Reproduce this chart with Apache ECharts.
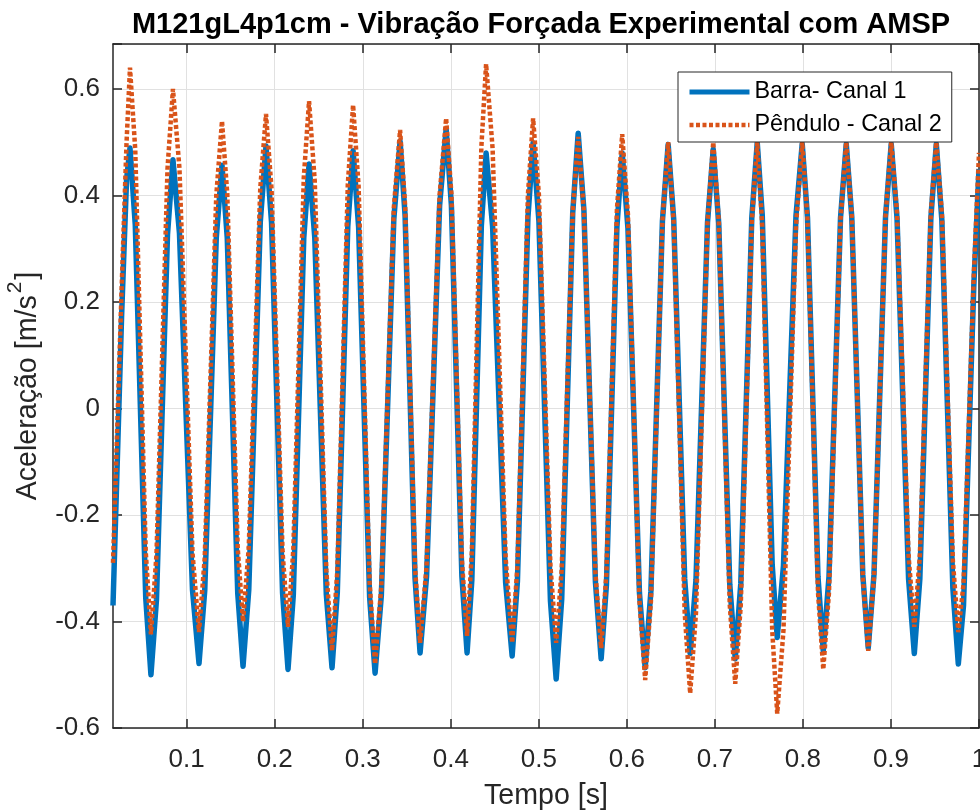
<!DOCTYPE html>
<html><head><meta charset="utf-8">
<script src="https://cdn.jsdelivr.net/npm/echarts@6/dist/echarts.min.js"></script>
<style>html,body{margin:0;padding:0;background:#fff}#c{width:980px;height:812px}</style>
</head><body><div id="c"></div>
<script>
const tempo = [
0.0163, 0.0260, 0.0317, 0.0356,
0.0416, 0.0535, 0.0594,
0.0657, 0.0782, 0.0844,
0.0918, 0.1066, 0.1140,
0.1205, 0.1336, 0.1401,
0.1461, 0.1580, 0.1640,
0.1705, 0.1836, 0.1901,
0.1964, 0.2089, 0.2151,
0.2211, 0.2330, 0.2390,
0.2455, 0.2586, 0.2651,
0.2711, 0.2830, 0.2890,
0.2953, 0.3078, 0.3140,
0.3211, 0.3353, 0.3424,
0.3481, 0.3594, 0.3651,
0.3725, 0.3873, 0.3947,
0.4007, 0.4126, 0.4185,
0.4239, 0.4347, 0.4401,
0.4475, 0.4623, 0.4697,
0.4757, 0.4876, 0.4935,
0.5001, 0.5132, 0.5197,
0.5260, 0.5385, 0.5447,
0.5512, 0.5643, 0.5708,
0.5768, 0.5887, 0.5947,
0.6012, 0.6143, 0.6208,
0.6273, 0.6404, 0.6469,
0.6532, 0.6657, 0.6719,
0.6785, 0.6916, 0.6981,
0.7044, 0.7169, 0.7231,
0.7294, 0.7419, 0.7481,
0.7538, 0.7651, 0.7708,
0.7779, 0.7921, 0.7992,
0.8052, 0.8171, 0.8231,
0.8296, 0.8427, 0.8492,
0.8555, 0.8680, 0.8742,
0.8807, 0.8938, 0.9003,
0.9069, 0.9200, 0.9265,
0.9328, 0.9453, 0.9515,
0.9578, 0.9703, 0.9765,
0.9824, 0.9941, 1.0
];

const barra = [
-0.37, 0.17, 0.43, 0.489,
0.345, -0.356, -0.500,
-0.359, 0.326, 0.467,
0.329, -0.341, -0.479,
-0.342, 0.320, 0.457,
0.320, -0.347, -0.484,
-0.341, 0.350, 0.493,
0.349, -0.346, -0.490,
-0.351, 0.320, 0.459,
0.321, -0.349, -0.487,
-0.345, 0.342, 0.484,
0.341, -0.354, -0.497,
-0.351, 0.356, 0.502,
0.362, -0.319, -0.459,
-0.315, 0.381, 0.525,
0.381, -0.315, -0.459,
-0.322, 0.343, 0.480,
0.342, -0.327, -0.465,
-0.324, 0.358, 0.499,
0.352, -0.361, -0.508,
-0.358, 0.367, 0.517,
0.373, -0.326, -0.470,
-0.331, 0.341, 0.480,
0.339, -0.346, -0.487,
-0.343, 0.352, 0.496,
0.356, -0.320, -0.460,
-0.322, 0.349, 0.487,
0.347, -0.330, -0.470,
-0.329, 0.358, 0.499,
0.363, -0.294, -0.430,
-0.295, 0.362, 0.497,
0.358, -0.316, -0.455,
-0.316, 0.358, 0.497,
0.359, -0.312, -0.450,
-0.312, 0.359, 0.497,
0.357, -0.320, -0.460,
-0.320, 0.357, 0.497,
0.354, -0.337, -0.480,
-0.37, 0.23, 0.45
];

const pendulo = [
-0.29, 0.22, 0.50, 0.64,
0.485, -0.269, -0.424,
-0.274, 0.450, 0.60,
0.451, -0.271, -0.42,
-0.280, 0.400, 0.54,
0.403, -0.263, -0.40,
-0.261, 0.414, 0.553,
0.412, -0.269, -0.41,
-0.266, 0.433, 0.577,
0.426, -0.304, -0.455,
-0.305, 0.420, 0.57,
0.417, -0.327, -0.48,
-0.334, 0.377, 0.523,
0.382, -0.299, -0.44,
-0.296, 0.401, 0.545,
0.403, -0.285, -0.427,
-0.270, 0.490, 0.647,
0.488, -0.281, -0.44,
-0.296, 0.401, 0.545,
0.401, -0.296, -0.44,
-0.301, 0.371, 0.51,
0.370, -0.310, -0.45,
-0.309, 0.374, 0.515,
0.365, -0.360, -0.51,
-0.363, 0.353, 0.50,
0.349, -0.384, -0.535,
-0.384, 0.349, 0.50,
0.352, -0.369, -0.517,
-0.369, 0.352, 0.50,
0.343, -0.416, -0.573,
-0.416, 0.343, 0.50,
0.355, -0.345, -0.49,
-0.345, 0.355, 0.50,
0.361, -0.316, -0.455,
-0.316, 0.361, 0.50,
0.367, -0.277, -0.41,
-0.277, 0.367, 0.50,
0.366, -0.286, -0.42,
-0.33, 0.25, 0.48
];

const xTicks = [0.1, 0.2, 0.3, 0.4, 0.5, 0.6, 0.7, 0.8, 0.9, 1];
const seriesNames = ['Barra- Canal 1', 'Pêndulo - Canal 2'];
const titleText = 'M121gL4p1cm - Vibração Forçada Experimental com AMSP';
const xName = 'Tempo [s]';

const FONT = '"Liberation Sans", Arial, Helvetica, sans-serif';
const AX = '#262626';
const BLUE = '#0072BD', ORANGE = '#D95319';
const X_MIN = 0.0163, X_MAX = 1.0, Y_MIN = -0.6, Y_MAX = 0.6845;
const ORANGE_DASH = [4, 2.5];

const chart = echarts.init(document.getElementById('c'), null, {renderer: 'canvas'});

const axisLineStyle = {show: true, onZero: false, lineStyle: {color: AX, width: 1.5}};
const tickStyle = {show: true, inside: true, length: 9, lineStyle: {color: AX, width: 1.5}};
const gridLine = {show: true, lineStyle: {color: '#e1e1e1', width: 1}};
const yFmt = v => {
  const k = Math.round(v * 5);
  if (Math.abs(v * 5 - k) > 1e-6) return '';
  return String(Math.round(v * 10) / 10);
};

chart.setOption({
  animation: false,
  backgroundColor: '#fff',
  title: {
    text: titleText, left: 536, top: 5, textAlign: 'center',
    textStyle: {fontFamily: FONT, fontSize: 29, fontWeight: 'bold', color: '#000'}
  },
  legend: {
    orient: 'vertical', left: 678, top: 72,
    padding: [7, 10, 4, 9], itemWidth: 60, itemHeight: 26, itemGap: 7,
    backgroundColor: '#fff', borderColor: AX, borderWidth: 1, borderRadius: 0,
    selectedMode: false,
    itemStyle: {opacity: 0},
    textStyle: {fontFamily: FONT, fontSize: 23.4, color: '#000', lineHeight: 26},
    data: [
      {name: seriesNames[0], itemStyle: {opacity: 0}, lineStyle: {color: BLUE, width: 5, type: 'solid'}},
      {name: seriesNames[1], itemStyle: {opacity: 0}, lineStyle: {color: ORANGE, width: 4.5, type: ORANGE_DASH, cap: 'butt'}}
    ]
  },
  grid: {left: 113, right: 1, top: 44, bottom: 84, containLabel: false, outerBoundsMode: 'none'},
  xAxis: [{
    type: 'value', min: X_MIN, max: X_MAX, position: 'bottom',
    axisLine: axisLineStyle,
    axisTick: Object.assign({customValues: xTicks}, tickStyle),
    axisLabel: {customValues: xTicks, margin: 19, fontFamily: FONT, fontSize: 26, color: AX,
      formatter: v => String(Math.round(v * 10) / 10)},
    splitLine: gridLine,
    name: xName, nameLocation: 'middle', nameGap: 54,
    nameTextStyle: {fontFamily: FONT, fontSize: 28.6, color: AX}
  }, {
    type: 'value', min: X_MIN, max: X_MAX, position: 'top',
    axisLine: axisLineStyle,
    axisTick: Object.assign({customValues: xTicks}, tickStyle),
    axisLabel: {show: false}, splitLine: {show: false}
  }],
  yAxis: [{
    type: 'value', min: Y_MIN, max: Y_MAX, interval: 0.2, position: 'left',
    axisLine: axisLineStyle, axisTick: tickStyle,
    axisLabel: {margin: 13, fontFamily: FONT, fontSize: 26, color: AX, formatter: yFmt},
    splitLine: gridLine,
    name: '{a|Aceleração [m/s}{s|2}{a|]}', nameLocation: 'middle', nameGap: 70,
    nameTextStyle: {fontFamily: FONT, fontSize: 28.6, color: AX,
      rich: {
        a: {fontFamily: FONT, fontSize: 28.6, color: AX, lineHeight: 38, verticalAlign: 'bottom'},
        s: {fontFamily: FONT, fontSize: 21, color: AX, lineHeight: 38, verticalAlign: 'top', padding: [0, 2, 0, 2]}
      }}
  }, {
    type: 'value', min: Y_MIN, max: Y_MAX, interval: 0.2, position: 'right',
    axisLine: axisLineStyle, axisTick: tickStyle,
    axisLabel: {show: false}, splitLine: {show: false}
  }],
  series: [{
    name: seriesNames[0], type: 'line', xAxisIndex: 0, yAxisIndex: 0,
    data: tempo.map((t, i) => [t, barra[i]]),
    symbol: 'none', showSymbol: false, clip: true,
    lineStyle: {color: BLUE, width: 5.5, join: 'round'},
    itemStyle: {color: BLUE},
    z: 2
  }, {
    name: seriesNames[1], type: 'line', xAxisIndex: 0, yAxisIndex: 0,
    data: tempo.map((t, i) => [t, pendulo[i]]),
    symbol: 'none', showSymbol: false, clip: true,
    lineStyle: {color: ORANGE, width: 4.5, type: ORANGE_DASH, cap: 'butt', join: 'miter'},
    itemStyle: {color: ORANGE},
    z: 3
  }]
});
</script></body></html>
